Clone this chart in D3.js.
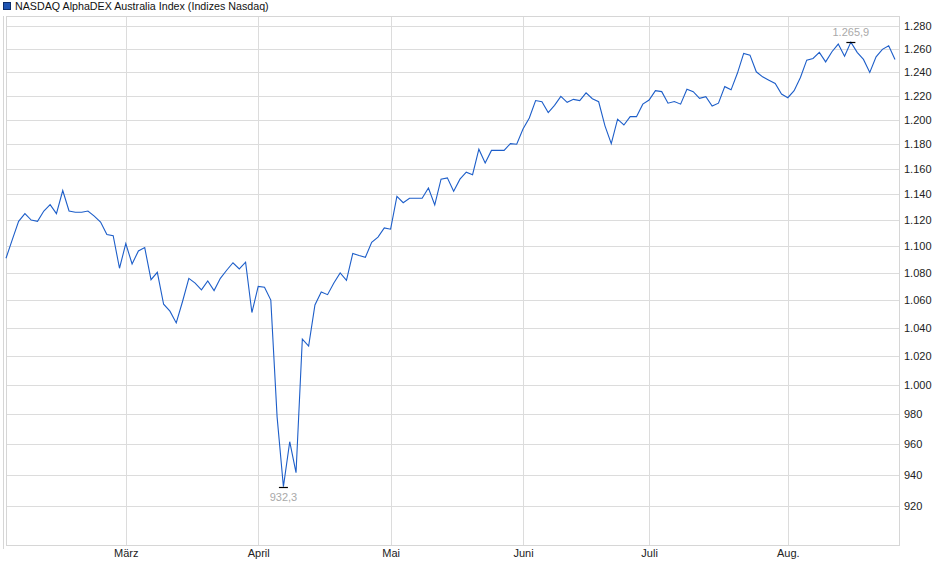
<!DOCTYPE html>
<html>
<head>
<meta charset="utf-8">
<script src="https://cdn.jsdelivr.net/npm/d3@7"></script>
<style>
  html, body { margin: 0; padding: 0; background: #fff; }
  svg text { font-family: "Liberation Sans", Arial, sans-serif; }
  .grid line { stroke: #dcdcdc; stroke-width: 1; shape-rendering: crispEdges; }
  .frame { fill: none; stroke: #d6d6d6; shape-rendering: crispEdges; }
</style>
</head>
<body>
<svg id="viz"></svg>
<script>
// trading-day closes, Feb 3 .. Aug 26
const closes = [
  1091, 1105, 1119, 1125, 1120, 1119, 1127, 1132, 1125, 1143,
  1127, 1126, 1126, 1127, 1123, 1118.5, 1109, 1108, 1083.5,
  1102, 1086.7, 1096.5, 1099, 1075, 1080.5, 1057, 1052, 1043.5, 1059,
  1076, 1072.5, 1067.5, 1074, 1067, 1076, 1082, 1087.6, 1083, 1088, 1051,
  1070, 1069.5, 1060, 978, 932.3, 961.6, 941.3, 1032, 1027, 1056.5,
  1066, 1064, 1072.5, 1080, 1074.5, 1094.6, 1093, 1091.7, 1103, 1107,
  1114, 1113,
  1138.5, 1133.5, 1137, 1137, 1137, 1145, 1131.7, 1152, 1153, 1142.5,
  1152, 1157.5, 1155.5, 1176, 1164.8, 1175, 1175, 1175, 1180.5, 1180,
  1192.5, 1201.5, 1216, 1215, 1206, 1212, 1219.5, 1214.5, 1217, 1216,
  1222.5, 1217.5, 1215, 1195, 1180.5, 1200.5, 1195.7, 1202.6, 1202.6, 1213,
  1216.4, 1224.3, 1223.5, 1213.8, 1215.2, 1213, 1225.5, 1223.5, 1217.8, 1219.3,
  1211.5, 1213.8, 1227.7, 1225, 1239, 1256.1, 1254.6, 1240.3, 1236, 1233.2,
  1230.4, 1221.5,
  1218.4, 1224.3, 1235.5, 1250.3, 1251.7, 1257, 1248.8, 1257.5, 1264.2, 1253.7,
  1265.9, 1257, 1250.9, 1239.8, 1253.1, 1259.6, 1262.8, 1250.9
]
const monthLabels = ['März', 'April', 'Mai', 'Juni', 'Juli', 'Aug.']
const monthStartIdx = [19, 40, 61, 82, 102, 124]
const yTicks = [920, 940, 960, 980, 1000, 1020, 1040, 1060, 1080, 1100, 1120,
  1140, 1160, 1180, 1200, 1220, 1240, 1260, 1280]
const title = 'NASDAQ AlphaDEX Australia Index (Indizes Nasdaq)'

const W = 940, H = 579
const plot = { left: 6, right: 899, top: 16, bottom: 545 }

const de = d3.formatLocale({ decimal: ',', thousands: '.', grouping: [3], currency: ['', ' €'] })
const fmtTick = de.format(',')
const fmtVal = de.format(',.1f')

const svg = d3.select('#viz').attr('width', W).attr('height', H)

const x = d3.scaleLinear().domain([0, closes.length - 1]).range([6, 895])
const y = d3.scaleLog().domain([920, 1280]).range([506, 26])

// grid
const grid = svg.append('g').classed('grid', true)
grid.selectAll('line.h').data(yTicks).join('line')
  .attr('x1', plot.left).attr('x2', plot.right)
  .attr('y1', d => Math.round(y(d)) + 0.5).attr('y2', d => Math.round(y(d)) + 0.5)
grid.selectAll('line.v').data(monthStartIdx).join('line')
  .attr('y1', plot.top).attr('y2', plot.bottom)
  .attr('x1', d => Math.round(x(d)) + 0.5).attr('x2', d => Math.round(x(d)) + 0.5)

// frame
svg.append('rect').classed('frame', true)
  .attr('x', plot.left + 0.5).attr('y', plot.top + 0.5)
  .attr('width', plot.right - plot.left).attr('height', plot.bottom - plot.top)
svg.append('line').classed('frame', true)
  .attr('x1', 3.5).attr('x2', 3.5).attr('y1', plot.top).attr('y2', plot.bottom + 4)

// y labels on the right
svg.append('g').selectAll('text').data(yTicks).join('text')
  .attr('x', 904).attr('y', d => y(d) + 4)
  .attr('font-size', 11).attr('fill', '#222')
  .text(d => fmtTick(d))

// month labels
svg.append('g').selectAll('text').data(monthStartIdx).join('text')
  .attr('x', d => x(d) + 0.5).attr('y', 557)
  .attr('text-anchor', 'middle')
  .attr('font-size', 11).attr('fill', '#222')
  .text((d, i) => monthLabels[i])

// line
const line = d3.line().x((d, i) => x(i)).y(d => y(d))
svg.append('path').datum(closes)
  .attr('d', line)
  .attr('fill', 'none')
  .attr('stroke', '#1d5ec9')
  .attr('stroke-width', 1.1)
  .attr('stroke-linejoin', 'miter')

// min / max markers
const iMin = d3.minIndex(closes), iMax = d3.maxIndex(closes)
const marks = [
  { i: iMin, dy: 14 },
  { i: iMax, dy: -6 }
]
marks.forEach(m => {
  const mx = x(m.i), my = y(closes[m.i])
  svg.append('line')
    .attr('x1', mx - 4.5).attr('x2', mx + 4.5)
    .attr('y1', Math.round(my) + 0.5).attr('y2', Math.round(my) + 0.5)
    .attr('stroke', '#000').attr('stroke-width', 1.2)
  svg.append('text')
    .attr('x', mx).attr('y', my + m.dy)
    .attr('text-anchor', 'middle')
    .attr('font-size', 11).attr('fill', '#a9a9a9')
    .text(fmtVal(closes[m.i]))
})

// legend / title
svg.append('rect')
  .attr('x', 3.5).attr('y', 2.5).attr('width', 7).attr('height', 7)
  .attr('fill', '#1f55b3').attr('stroke', '#0d2d6b')
svg.append('text')
  .attr('x', 15).attr('y', 10)
  .attr('font-size', 10.7).attr('fill', '#111')
  .text(title)
</script>
</body>
</html>
